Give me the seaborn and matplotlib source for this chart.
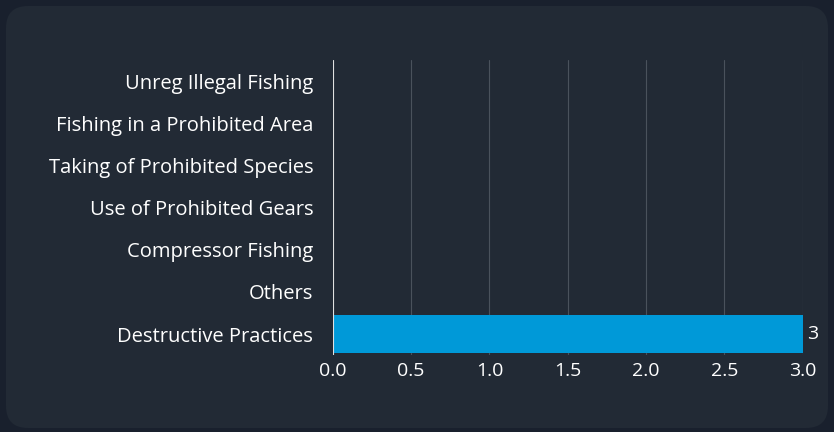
import matplotlib
matplotlib.use("Agg")
import matplotlib.pyplot as plt
import seaborn as sns
import pandas as pd
from matplotlib.patches import FancyBboxPatch

categories = ["Unreg Illegal Fishing", "Fishing in a Prohibited Area", "Taking of Prohibited Species",
              "Use of Prohibited Gears", "Compressor Fishing", "Others", "Destructive Practices"]
values = [0, 0, 0, 0, 0, 0, 3]
xticks = [0.0, 0.5, 1.0, 1.5, 2.0, 2.5, 3.0]

sns.set_style("dark")
plt.rcParams['font.family'] = ['Open Sans', 'DejaVu Sans']

fig = plt.figure(figsize=(8.34, 4.32), dpi=100)
fig.patch.set_facecolor("#19202d")
bg = fig.add_axes([0, 0, 1, 1], zorder=-10)
bg.set_xlim(0, 834); bg.set_ylim(0, 432); bg.axis("off")
bg.add_patch(FancyBboxPatch((6, 4), 822, 422, boxstyle="round,pad=0,rounding_size=22",
                            facecolor="#222a35", edgecolor="none"))

ax = fig.add_axes([0.399, 0.178, 0.564, 0.683])
ax.set_facecolor("none")
df = pd.DataFrame({"cat": categories, "val": values})
sns.barplot(data=df, x="val", y="cat", color="#0099d8", saturation=1, width=0.9,
            linewidth=0, edgecolor="none", ax=ax, zorder=3)
ax.set_xlim(0, 3.002)
ax.set_xticks(xticks)
ax.set_xticklabels([f"{t:.1f}" for t in xticks])
ax.set_xlabel(""); ax.set_ylabel("")
ax.grid(axis="x", color="#4a525c", linewidth=0.8, zorder=0)
ax.grid(axis="y", visible=False)
for s in ax.spines.values():
    s.set_visible(False)
ax.axvline(0, color="#e0e0e0", linewidth=0.8, zorder=4)
ax.tick_params(axis="y", colors="white", labelsize=14.5, length=0, pad=14)
ax.tick_params(axis="x", colors="white", labelsize=14, length=0, pad=5)
for i, v in enumerate(values):
    if v > 0:
        ax.text(v + 0.03, i, str(v), color="white", va="center", ha="left", fontsize=14, clip_on=False)

fig.savefig("out.png", dpi=100, facecolor=fig.get_facecolor())
